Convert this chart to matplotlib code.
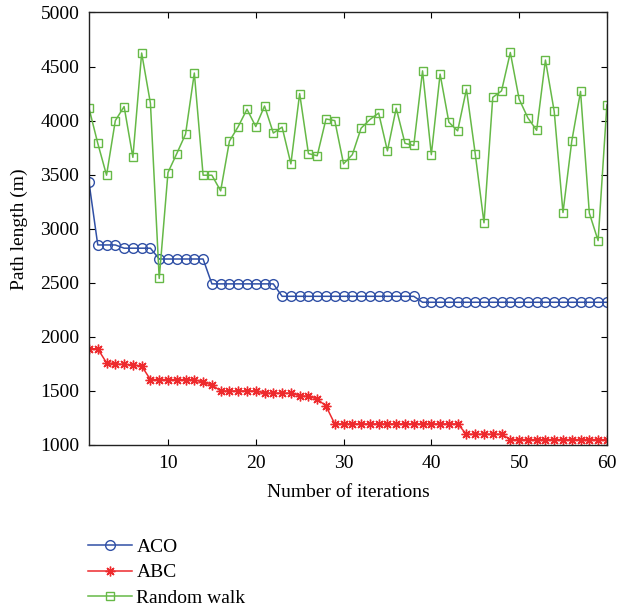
import numpy as np
import matplotlib
matplotlib.use("Agg")
import matplotlib.pyplot as plt

plt.rcParams["font.family"] = ["Liberation Serif", "DejaVu Serif"]

iters = np.arange(1, 61)

aco = [3430, 2850, 2850, 2850, 2820, 2820, 2820, 2820,
       2720, 2720, 2720, 2720, 2720, 2720,
       2490, 2490, 2490, 2490, 2490, 2490, 2490, 2490] + [2375] * 16 + [2320] * 22

abc = [1890, 1890, 1760, 1750, 1745, 1740, 1730,
       1605, 1605, 1605, 1605, 1605, 1605, 1580, 1555,
       1500, 1500, 1500, 1500, 1500,
       1480, 1480, 1480, 1480, 1455, 1450, 1425, 1360] + [1195] * 15 + [1100] * 5 + [1050] * 12

rwalk = [4115, 3790, 3495, 4000, 4130, 3660, 4625, 4160, 2540, 3520,
         3695, 3875, 4440, 3495, 3495, 3350, 3810, 3945, 4105, 3945,
         4135, 3885, 3940, 3600, 4250, 3695, 3675, 4015, 4000, 3600,
         3685, 3930, 4010, 4070, 3720, 4115, 3790, 3770, 4460, 3685,
         4430, 3985, 3905, 4290, 3695, 3055, 4215, 4275, 4630, 4200,
         4025, 3910, 4560, 4085, 3150, 3810, 4270, 3145, 2890, 4145]

fig = plt.figure(figsize=(6.18, 6.12), dpi=100)
ax = fig.add_axes([0.144, 0.2729, 0.982 - 0.144, 0.9796 - 0.2729])

l1, = ax.plot(iters, aco, color="#3050a6", lw=1.1, marker="o", ms=7,
              mfc="none", mec="#3050a6", mew=1.0, label="ACO")
l2, = ax.plot(iters, abc, color="#ee2a2d", lw=1.1, marker=(8, 2, 0), ms=7,
              mec="#ee2a2d", mew=1.0, label="ABC")
l3, = ax.plot(iters, rwalk, color="#66b947", lw=1.1, marker="s", ms=5.5,
              mfc="none", mec="#66b947", mew=1.0, label="Random walk")

ax.set_xlim(1, 60)
ax.set_ylim(1000, 5000)
ax.set_xticks(range(10, 61, 10))
ax.set_yticks(range(1000, 5001, 500))
ax.tick_params(direction="in", top=True, right=True, labelsize=14, length=4, pad=7)
for s in ax.spines.values():
    s.set_linewidth(1.0)
    s.set_color("#222222")
ax.set_xlabel("Number of iterations", fontsize=14, labelpad=9)
ax.set_ylabel("Path length (m)", fontsize=14, labelpad=9)

fig.legend(handles=[l1, l2, l3], loc="upper left",
           bbox_to_anchor=(0.142, 0.121), frameon=False, fontsize=14,
           handlelength=2.3, handletextpad=0.2, labelspacing=0.42,
           borderpad=0, borderaxespad=0)

fig.savefig("out.png", dpi=100)
